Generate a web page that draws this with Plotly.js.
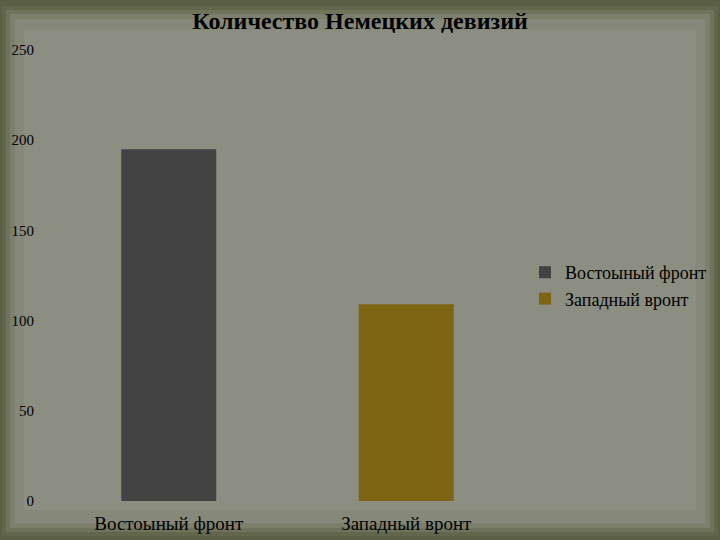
<!DOCTYPE html>
<html>
<head>
<meta charset="utf-8">
<script src="https://cdn.plot.ly/plotly-3.0.1.min.js"></script>
<style>html,body{margin:0;padding:0;background:#5a5e44;}#chart{width:720px;height:540px;}</style>
</head>
<body>
<div id="chart"></div>
<script>
const categories = ["Востоыный фронт", "Западный вронт"];
const seriesNames = ["Востоыный фронт", "Западный вронт"];
const divisions = [195, 109];
const yTicks = [0, 50, 100, 150, 200, 250];
const chartTitle = "Количество Немецких девизий";

const barColors = ["#434343", "#7e6513"];
const fontFam = "Liberation Serif, DejaVu Serif, serif";

// layout geometry in pixels
const W = 720, H = 540;
const L = 50, R = 525, T = 50, B = 501;
const px = x => (x - L) / (R - L);
const py = y => (B - y) / (B - T);

function rect(x0, y0, x1, y1, color, opacity) {
  return {type: "rect", xref: "paper", yref: "paper", layer: "below",
    x0: px(x0), x1: px(x1), y0: py(y1), y1: py(y0),
    fillcolor: color, opacity: opacity === undefined ? 1 : opacity, line: {width: 0}};
}

const traces = categories.map((c, i) => ({
  type: "bar",
  name: seriesNames[i],
  x: [c],
  y: [divisions[i]],
  marker: {color: barColors[i]},
  width: 0.4,
  hoverinfo: "x+y"
}));

const layout = {
  width: W, height: H,
  paper_bgcolor: "#5a5e44",
  plot_bgcolor: "rgba(0,0,0,0)",
  margin: {l: L, r: W - R, t: T, b: H - B},
  title: {text: "<b>" + chartTitle + "</b>", x: 0.5, xref: "container", xanchor: "center",
    y: 0.962, yref: "container", yanchor: "middle", automargin: false,
    font: {family: fontFam, size: 24, color: "#000"}},
  barmode: "overlay",
  showlegend: true,
  legend: {xref: "container", yref: "container", x: 525 / W, xanchor: "left",
    y: 1 - 254 / H, yanchor: "top",
    font: {family: fontFam, size: 18, color: "#000"}, bgcolor: "rgba(0,0,0,0)",
    itemwidth: 30, tracegroupgap: 4},
  xaxis: {type: "category", showgrid: false, zeroline: false, showline: false, automargin: false,
    ticks: "", tickfont: {family: fontFam, size: 19, color: "#000"}, ticklabelstandoff: 9},
  yaxis: {range: [0, 250], tickvals: yTicks, showgrid: false, zeroline: false, showline: false, automargin: false,
    ticks: "", tickfont: {family: fontFam, size: 15, color: "#000"}, ticklabelstandoff: 15},
  shapes: [
    rect(2, 6, 718, 536, "#62664c"),
    rect(6, 10, 714, 532, "#6f735b"),
    rect(10, 14, 710, 528, "#7c7f6b"),
    rect(15, 19, 705, 523, "#86897a"),
    rect(24, 30, 696, 510, "#8c8e81")
  ],
  font: {family: fontFam}
};

Plotly.newPlot("chart", traces, layout, {displayModeBar: false, staticPlot: true});
</script>
</body>
</html>
